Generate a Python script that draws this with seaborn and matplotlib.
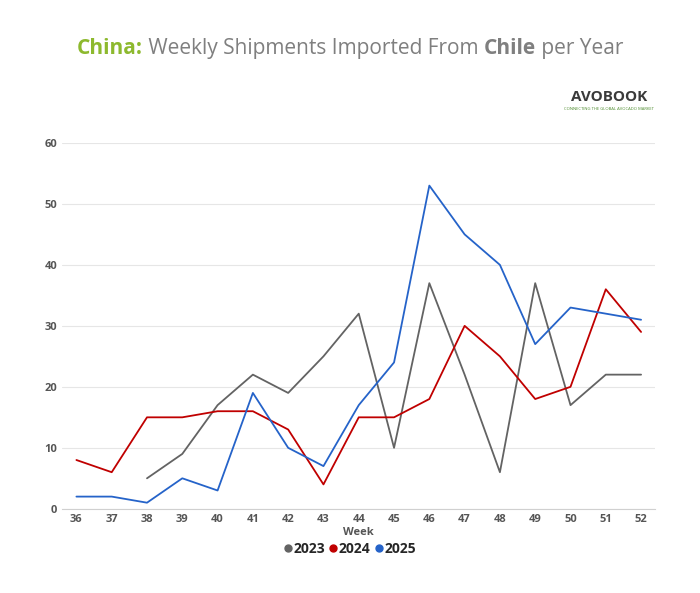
import numpy as np
import pandas as pd
import matplotlib
matplotlib.use('Agg')
import matplotlib.pyplot as plt
import seaborn as sns

weeks = list(range(36, 53))
y2023 = [np.nan, np.nan, 5, 9, 17, 22, 19, 25, 32, 10, 37, 22, 6, 37, 17, 22, 22]
y2024 = [8, 6, 15, 15, 16, 16, 13, 4, 15, 15, 18, 30, 25, 18, 20, 36, 29]
y2025 = [2, 2, 1, 5, 3, 19, 10, 7, 17, 24, 53, 45, 40, 27, 33, 32, 31]
years = ['2023', '2024', '2025']
colors = ['#636363', '#C00000', '#2563C9']

df = pd.DataFrame({'Week': weeks * 3,
                   'value': y2023 + y2024 + y2025,
                   'year': sum([[y] * len(weeks) for y in years], [])})

sns.set_style('white')
plt.rcParams['font.family'] = ['Open Sans', 'DejaVu Sans']
fig = plt.figure(figsize=(7, 5.93), dpi=100)
ax = fig.add_axes([0.089, 0.142, 0.847, 0.617])
sns.lineplot(data=df, x='Week', y='value', hue='year', palette=colors, ax=ax,
             linewidth=1.3, legend=False)

ax.set_xlim(35.6, 52.4)
ax.set_ylim(0, 60)
ax.set_xticks(weeks)
ax.set_yticks(range(0, 61, 10))
ax.grid(axis='y', color='#e6e6e6', linewidth=0.8)
for s in ['top', 'right', 'left']:
    ax.spines[s].set_visible(False)
ax.spines['bottom'].set_color('#d0d0d0')
ax.tick_params(length=0, labelsize=8, labelcolor='#555555')
for lab in ax.get_xticklabels() + ax.get_yticklabels():
    lab.set_fontweight('bold')
ax.set_xlabel('Week', fontsize=8, fontweight='bold', color='#555555', labelpad=2)
ax.set_ylabel('')

# legend
handles = [plt.Line2D([], [], marker='o', linestyle='', color=c, markersize=5) for c in colors]
fig.legend(handles, years, loc='center', bbox_to_anchor=(0.5, 0.075), ncol=3,
           frameon=False, handlelength=0.6, handletextpad=0.1, columnspacing=0.3,
           prop={'weight': 'bold', 'size': 10})

# title in pieces
parts = [('China:', '#8DB92E', 'bold'), (' Weekly Shipments Imported From ', '#7f7f7f', 'normal'),
         ('Chile', '#7f7f7f', 'bold'), (' per Year', '#7f7f7f', 'normal')]
fig.canvas.draw()
r = fig.canvas.get_renderer()
texts = []
for s, c, w in parts:
    texts.append(fig.text(0, 0.918, s, fontsize=15, color=c, fontweight=w, va='center'))
widths = [t.get_window_extent(r).width / fig.bbox.width for t in texts]
x = 0.5 - sum(widths) / 2
for t, w in zip(texts, widths):
    t.set_x(x)
    x += w

fig.text(0.87, 0.83, 'AVOBOOK', fontsize=11, fontweight='bold', color='#3a3a3a', ha='center')
fig.text(0.87, 0.815, 'CONNECTING THE GLOBAL AVOCADO MARKET', fontsize=3, color='#4a8a2a', ha='center')

fig.savefig('out.png', dpi=100)
